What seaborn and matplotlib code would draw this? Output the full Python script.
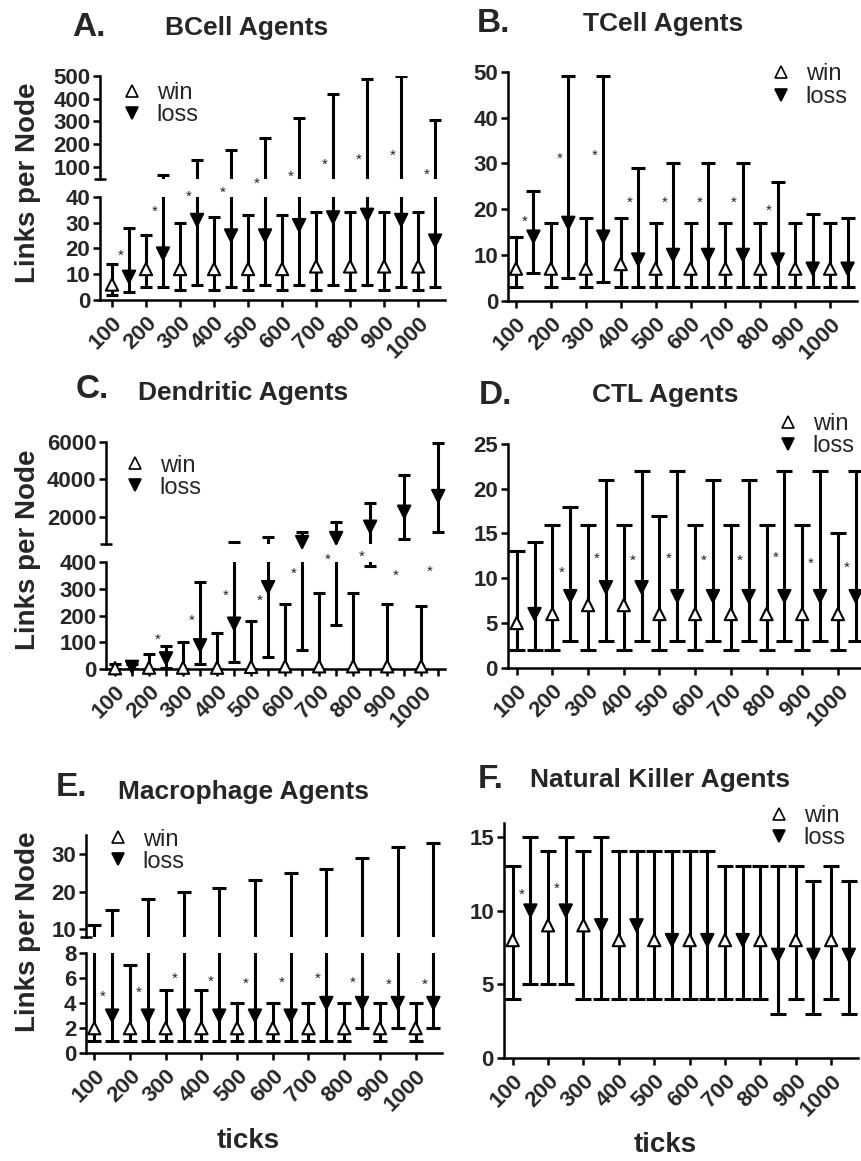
import numpy as np
import pandas as pd
import matplotlib
matplotlib.use("Agg")
import matplotlib.pyplot as plt
import matplotlib.transforms as mtransforms
from matplotlib.lines import Line2D
import seaborn as sns

# ---------------- data ----------------
tick_values = [100, 200, 300, 400, 500, 600, 700, 800, 900, 1000]
tick_labels = [str(t) for t in tick_values]

# A. BCell
a_win_med = [6, 12, 12, 12, 12, 12, 13, 13, 13, 13]
a_win_min = [2, 5, 4, 4, 4, 4, 4, 4, 4, 4]
a_win_max = [14, 25, 30, 32, 33, 33, 34, 34, 34, 34]
a_loss_med = [9, 18, 31, 25, 25, 29, 32, 33, 31, 23]
a_loss_min = [3, 5, 6, 5, 6, 6, 6, 6, 5, 5]
a_loss_max = [28, 63, 130, 175, 225, 313, 420, 485, 500, 306]
a_star_idx = [0, 1, 2, 3, 4, 5, 6, 7, 8, 9]
a_star_y = [19, 36, 41.7, 43.3, 46, 78, 129, 151, 169, 85]

# B. TCell
b_win_med = [7, 7, 7, 8, 7, 7, 7, 7, 7, 7]
b_win_min = [3, 3, 3, 3, 3, 3, 3, 3, 3, 3]
b_win_max = [14, 17, 18, 18, 17, 17, 17, 17, 17, 17]
b_loss_med = [14, 17, 14, 9, 10, 10, 10, 9, 7, 7]
b_loss_min = [6, 5, 4, 3, 3, 3, 3, 3, 3, 3]
b_loss_max = [24, 49, 49, 29, 30, 30, 30, 26, 19, 18]
b_star_idx = [0, 1, 2, 3, 4, 5, 6, 7]
b_star_y = [18.3, 32, 32.7, 22.5, 22.5, 22.5, 22.5, 20.7]

# C. Dendritic
c_win_med = [3, 5, 5, 5, 8, 10, 10, 10, 10, 10]
c_win_min = [0, 0, 0, 0, 0, 0, 0, 0, 0, 0]
c_win_max = [20, 56, 102, 134, 180, 242, 284, 284, 242, 237]
c_loss_med = [8, 40, 89, 170, 307, 650, 864, 1467, 2267, 3104]
c_loss_min = [0, 5, 17, 25, 46, 71, 165, 387, 795, 1168]
c_loss_max = [20, 86, 326, 667, 933, 1200, 1733, 2750, 4200, 5950]
c_star_idx = [1, 2, 3, 4, 5, 6, 7, 8, 9]
c_star_y = [127, 200, 294, 275, 375, 427, 439, 367, 383]

# D. CTL
d_win_med = [5, 6, 7, 7, 6, 6, 6, 6, 6, 6]
d_win_min = [2, 2, 2, 2, 2, 2, 2, 2, 2, 2]
d_win_max = [13, 16, 16, 16, 17, 16, 16, 16, 16, 15]
d_loss_med = [6, 8, 9, 9, 8, 8, 8, 8, 8, 8]
d_loss_min = [2, 3, 3, 3, 3, 3, 3, 3, 3, 3]
d_loss_max = [14, 18, 21, 22, 22, 21, 21, 22, 22, 22]
d_star_idx = [1, 2, 3, 4, 5, 6, 7, 8, 9]
d_star_y = [11.1, 12.7, 12.5, 12.7, 12.5, 12.5, 12.8, 12.1, 11.7]

# E. Macrophage
e_win_med = [2, 2, 2, 2, 2, 2, 2, 2, 2, 2]
e_win_min = [1, 1, 1, 1, 1, 1, 1, 1, 1, 1]
e_win_max = [11, 7, 5, 5, 4, 4, 4, 4, 4, 4]
e_loss_med = [3, 3, 3, 3, 3, 3, 4, 4, 4, 4]
e_loss_min = [1, 1, 1, 1, 1, 1, 1, 2, 2, 2]
e_loss_max = [15, 18, 20, 21, 23, 25, 26, 29, 32, 33]
e_star_idx = [0, 1, 2, 3, 4, 5, 6, 7, 8, 9]
e_star_y = [4.9, 5.2, 6.3, 6.1, 5.9, 6.0, 6.3, 6.0, 5.8, 5.8]

# F. Natural Killer
f_win_med = [8, 9, 9, 8, 8, 8, 8, 8, 8, 8]
f_win_min = [4, 5, 4, 4, 4, 4, 4, 4, 4, 4]
f_win_max = [13, 14, 14, 14, 14, 14, 13, 13, 13, 13]
f_loss_med = [10, 10, 9, 9, 8, 8, 8, 7, 7, 7]
f_loss_min = [5, 5, 4, 4, 4, 4, 4, 3, 3, 3]
f_loss_max = [15, 15, 15, 14, 14, 14, 13, 13, 12, 12]
f_star_idx = [0, 1]
f_star_y = [11.4, 11.8]

# ---------------- style ----------------
sns.set_theme(style="ticks")
plt.rcParams["font.family"] = ["Liberation Sans", "DejaVu Sans"]
plt.rcParams["axes.linewidth"] = 1.8
plt.rcParams["axes.edgecolor"] = "black"

W, H = 862, 1161
fig = plt.figure(figsize=(W / 100, H / 100), dpi=100)

TICK_FS = 16
LW = 2.2


def add_ax(left, top, right, bottom):
    return fig.add_axes([left / W, 1 - bottom / H, (right - left) / W, (bottom - top) / H])


def panel(win, loss, stars, lower_box, xlim, lower_ylim, lower_ticks,
          upper_box=None, upper_ylim=None, upper_ticks=None, capsize=5.0,
          loss_ticks=False):
    x = np.arange(len(tick_values))
    ax_lo = add_ax(*lower_box)
    ax_hi = add_ax(*upper_box) if upper_box else None
    pairs = [(ax_lo, lower_ylim)]
    if ax_hi is not None:
        pairs.append((ax_hi, upper_ylim))

    rows = []
    for name, off, (med, lo, hi) in (("win", 0.0, win), ("loss", 0.5, loss)):
        for i in range(len(med)):
            rows.append({"x": x[i] + off, "y": med[i], "outcome": name})
    df = pd.DataFrame(rows)

    for ax, ylim in pairs:
        ax.set_xlim(*xlim)
        ax.set_ylim(*ylim)
        for off, (med, lo, hi) in ((0.0, win), (0.5, loss)):
            med = np.asarray(med, float)
            lo = np.asarray(lo, float)
            hi = np.asarray(hi, float)
            ax.errorbar(x + off, med, yerr=[med - lo, hi - med], fmt="none",
                        ecolor="black", elinewidth=LW, capsize=capsize,
                        capthick=LW, zorder=2)
        if ax is ax_hi:
            sub = df[df.y >= ylim[0]]
        elif ax_hi is not None:
            sub = df[df.y <= ylim[1]]
        else:
            sub = df
        sns.scatterplot(data=sub, x="x", y="y", hue="outcome", style="outcome",
                        hue_order=["win", "loss"], style_order=["win", "loss"],
                        markers={"win": "^", "loss": "v"},
                        palette={"win": "white", "loss": "black"},
                        edgecolor="black", linewidth=1.5, s=78, legend=False,
                        ax=ax, zorder=3, clip_on=False)
        ax.set_xlabel("")
        ax.set_ylabel("")
        ax.tick_params(axis="both", which="major", length=5, width=1.8,
                       color="black", labelsize=TICK_FS, pad=2)

    # lower axis
    sns.despine(ax=ax_lo)
    ax_lo.set_yticks(lower_ticks)
    ax_lo.set_yticklabels([str(t) for t in lower_ticks], fontweight="bold",
                          fontsize=TICK_FS)
    ax_lo.set_xticks(x)
    ax_lo.set_xticklabels(tick_labels, rotation=45, ha="right",
                          rotation_mode="anchor", fontweight="bold",
                          fontsize=TICK_FS)
    ax_lo.tick_params(axis="x", pad=4)
    if loss_ticks:
        ax_lo.set_xticks(x + 0.5, minor=True)
        ax_lo.tick_params(axis="x", which="minor", length=5, width=1.8,
                          color="black")

    if ax_hi is not None:
        sns.despine(ax=ax_hi, bottom=True)
        ax_hi.tick_params(axis="x", which="both", bottom=False, labelbottom=False)
        ax_hi.set_yticks(upper_ticks)
        ax_hi.set_yticklabels([str(t) for t in upper_ticks], fontweight="bold",
                              fontsize=TICK_FS)
        ax_hi.set_yticks([upper_ylim[0]], minor=True)
        ax_hi.tick_params(axis="y", which="minor", direction="inout", length=8,
                          width=1.8, color="black")
        ax_hi.patch.set_alpha(0)
    ax_lo.patch.set_alpha(0)

    # significance stars
    idx, ys = stars
    for i, yv in zip(idx, ys):
        if ax_hi is not None and yv >= upper_ylim[0]:
            tgt = ax_hi
        else:
            tgt = ax_lo
        tr = mtransforms.offset_copy(tgt.transData, fig=fig, y=-0.57 * 11,
                                     units="points")
        tgt.text(i + 0.25, yv, "*", ha="center", va="baseline", fontsize=11,
                 color="#222222", transform=tr, clip_on=False)
    return ax_lo, ax_hi


def add_legend(ax, mx, wy, row):
    fs = 17
    fs_px = fs * 100 / 72
    hl = 0.9
    handles = [
        Line2D([], [], marker="^", linestyle="none", markerfacecolor="white",
               markeredgecolor="black", markersize=9, markeredgewidth=1.2),
        Line2D([], [], marker="v", linestyle="none", markerfacecolor="black",
               markeredgecolor="black", markersize=9, markeredgewidth=1.2),
    ]
    ax.legend(handles, ["win", "loss"], loc="upper left",
              bbox_to_anchor=((mx - hl * fs_px / 2) / W, 1 - (wy - row / 2) / H),
              bbox_transform=fig.transFigure, frameon=False, fontsize=fs,
              handlelength=hl, handletextpad=0.6,
              labelspacing=max(row / fs_px - 1.15, 0.0), borderpad=0,
              borderaxespad=0)


# ---------------- panels ----------------
axA, axA_hi = panel((a_win_med, a_win_min, a_win_max),
                    (a_loss_med, a_loss_min, a_loss_max),
                    (a_star_idx, a_star_y),
                    (100, 196.7, 445, 300), (-0.353, 9.79), (0, 40), [0, 10, 20, 30, 40],
                    upper_box=(100, 76, 445, 179.3), upper_ylim=(44.5, 500),
                    upper_ticks=[100, 200, 300, 400, 500], capsize=4.3)
add_legend(axA_hi, 132, 95, 26)

axB, _ = panel((b_win_med, b_win_min, b_win_max),
               (b_loss_med, b_loss_min, b_loss_max),
               (b_star_idx, b_star_y),
               (508, 71.7, 857, 300.7), (-0.229, 9.77), (0, 50),
               [0, 10, 20, 30, 40, 50], capsize=5.2)
add_legend(axB, 781, 77, 28)

axC, axC_hi = panel((c_win_med, c_win_min, c_win_max),
                    (c_loss_med, c_loss_min, c_loss_max),
                    (c_star_idx, c_star_y),
                    (106, 562.3, 445, 669), (-0.265, 9.7), (0, 400),
                    [0, 100, 200, 300, 400],
                    upper_box=(106, 441.7, 445, 544.3), upper_ylim=(528, 6000),
                    upper_ticks=[2000, 4000, 6000], capsize=4.3, loss_ticks=True)
add_legend(axC_hi, 135, 467, 25)

axD, _ = panel((d_win_med, d_win_min, d_win_max),
               (d_loss_med, d_loss_min, d_loss_max),
               (d_star_idx, d_star_y),
               (507.7, 444, 870, 667.7), (-0.252, 9.9), (0, 25),
               [0, 5, 10, 15, 20, 25], capsize=5.5)
add_legend(axD, 788, 425, 24)

axE, axE_hi = panel((e_win_med, e_win_min, e_win_max),
                    (e_loss_med, e_loss_min, e_loss_max),
                    (e_star_idx, e_star_y),
                    (86, 952.7, 442, 1053.3), (-0.232, 9.74), (0, 8),
                    [0, 2, 4, 6, 8],
                    upper_box=(86, 835, 442, 936.7), upper_ylim=(7.95, 35.07),
                    upper_ticks=[10, 20, 30], capsize=5.0)
add_legend(axE_hi, 118, 840, 23)

axF, _ = panel((f_win_med, f_win_min, f_win_max),
               (f_loss_med, f_loss_min, f_loss_max),
               (f_star_idx, f_star_y),
               (503.7, 823.3, 857.7, 1058.3), (-0.254, 9.75), (0, 15.9),
               [0, 5, 10, 15], capsize=5.5)
add_legend(axF, 779, 817, 23)

# ---------------- titles & labels ----------------
def ftext(x, y, s, **kw):
    fig.text(x / W, 1 - y / H, s, ha="center", va="center", **kw)

titles = [
    ("A.", 89, 28, "BCell Agents", 247, 28),
    ("B.", 493, 24, "TCell Agents", 663, 24),
    ("C.", 92, 389, "Dendritic Agents", 243, 393),
    ("D.", 495, 395, "CTL Agents", 665, 395),
    ("E.", 72, 787, "Macrophage Agents", 244, 792),
    ("F.", 491, 780, "Natural Killer Agents", 660, 780),
]
for letter, lx, ly, title, tx, ty in titles:
    ftext(lx, ly, letter, fontsize=24, fontweight="bold")
    ftext(tx, ty, title, fontsize=19, fontweight="bold")

for yc in (183, 550, 932):
    ftext(28, yc, "Links per Node", fontsize=20, fontweight="bold", rotation=90)

ftext(248, 1141, "ticks", fontsize=20, fontweight="bold")
ftext(665, 1145, "ticks", fontsize=20, fontweight="bold")

fig.savefig("out.png", dpi=100)
